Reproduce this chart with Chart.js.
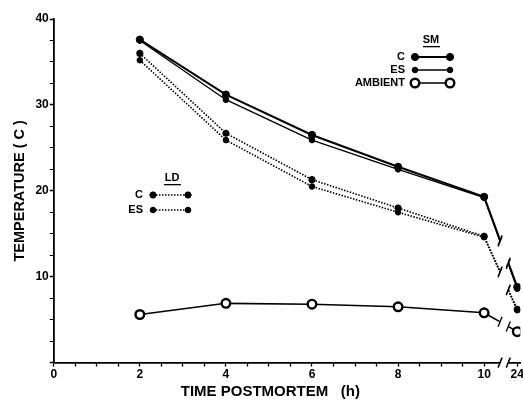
<!DOCTYPE html>
<html>
<head>
<meta charset="utf-8">
<script src="https://cdn.jsdelivr.net/npm/chart.js@4/dist/chart.umd.min.js"></script>
<style>
  html, body { margin: 0; padding: 0; background: #fff; overflow: hidden; }
  #wrap { width: 527px; height: 401px; }
</style>
</head>
<body>
<div id="wrap"><canvas id="chart"></canvas></div>
<script>
// valores (temperatura en C)
const hours = [2, 4, 6, 8, 10, 24];
const smC = [37.6, 31.2, 26.5, 22.8, 19.3, 8.8];
const smES = [37.5, 30.6, 25.9, 22.5, 19.2, 8.6];
const ldC = [36.0, 26.7, 21.3, 18.0, 14.7, 6.2];
const ldES = [35.2, 25.9, 20.5, 17.5, 14.6, 6.1];
const ambient = [5.6, 6.9, 6.8, 6.5, 5.8, 3.6];
const xTickLabels = ['0', '2', '4', '6', '8', '10'];
const lateTickLabel = '24';
const yTickLabels = ['10', '20', '30', '40'];

// eje x cortado: las 24 h se dibujan justo despues del corte
const LATE_POS = 10.77;
const BREAK_FROM = 10.37;
const BREAK_TO = 10.56;
const xPos = h => (h > 10 ? LATE_POS : h);
const toPoints = arr => arr.map((v, i) => ({ x: xPos(hours[i]), y: v }));

const FONT = '"Liberation Sans", Arial, sans-serif';

const base = {
  borderColor: '#000',
  pointBorderColor: '#000',
  pointBackgroundColor: '#000',
  tension: 0,
  fill: false
};

const datasets = [
  { ...base, label: 'SM C', data: toPoints(smC), borderWidth: 2, pointRadius: 3.6, pointBorderWidth: 1, pointStyle: 'circle', group: 'SM', key: 'C' },
  { ...base, label: 'SM ES', data: toPoints(smES), borderWidth: 1.4, pointRadius: 2.8, pointBorderWidth: 1, pointStyle: 'circle', group: 'SM', key: 'ES' },
  { ...base, label: 'AMBIENT', data: toPoints(ambient), borderWidth: 1.6, pointRadius: 4.3, pointBorderWidth: 2.4, pointStyle: 'circle', pointBackgroundColor: '#fff', group: 'SM', key: 'AMBIENT' },
  { ...base, label: 'LD C', data: toPoints(ldC), borderWidth: 1.6, borderDash: [1.5, 1.5], pointRadius: 3.6, pointBorderWidth: 2.2, pointStyle: 'star', group: 'LD', key: 'C' },
  { ...base, label: 'LD ES', data: toPoints(ldES), borderWidth: 1.6, borderDash: [1.5, 1.5], pointRadius: 2.8, pointBorderWidth: 1, pointStyle: 'circle', group: 'LD', key: 'ES' }
];

function marker(ctx, ds, x, y) {
  ctx.save();
  ctx.setLineDash([]);
  ctx.fillStyle = ds.pointBackgroundColor;
  ctx.strokeStyle = ds.pointBorderColor;
  ctx.lineWidth = ds.pointBorderWidth;
  Chart.helpers.drawPoint(ctx, { pointStyle: ds.pointStyle, radius: ds.pointRadius, borderWidth: ds.pointBorderWidth, rotation: 0 }, x, y);
  ctx.restore();
}

function sample(ctx, ds, x1, x2, y) {
  ctx.save();
  ctx.strokeStyle = ds.borderColor;
  ctx.lineWidth = ds.borderWidth;
  ctx.setLineDash(ds.borderDash || []);
  ctx.beginPath();
  ctx.moveTo(x1, y);
  ctx.lineTo(x2, y);
  ctx.stroke();
  ctx.restore();
  marker(ctx, ds, x1, y);
  marker(ctx, ds, x2, y);
}

function slash(ctx, x, y, w) {
  ctx.save();
  ctx.strokeStyle = '#000';
  ctx.lineWidth = w || 1.5;
  ctx.setLineDash([]);
  ctx.beginPath();
  ctx.moveTo(x - 2, y + 5);
  ctx.lineTo(x + 2, y - 5);
  ctx.stroke();
  ctx.restore();
}

const breakAndLegend = {
  id: 'breakAndLegend',
  afterDatasetsDraw(chart) {
    const { ctx, chartArea, scales } = chart;
    const xs = scales.x;
    const xl = xs.getPixelForValue(BREAK_FROM);
    const xr = xs.getPixelForValue(BREAK_TO);
    // tapar el tramo del corte
    ctx.save();
    ctx.fillStyle = '#fff';
    ctx.fillRect(xl, chartArea.top, xr - xl, chartArea.bottom - chartArea.top + 2);
    ctx.restore();
    slash(ctx, xl, chartArea.bottom, 1.5);
    slash(ctx, xr, chartArea.bottom, 1.5);
    // marcas de corte en cada serie
    chart.data.datasets.forEach((ds, i) => {
      const pts = chart.getDatasetMeta(i).data;
      const a = pts[4], b = pts[5];
      const yAt = x => a.y + (b.y - a.y) * (x - a.x) / (b.x - a.x);
      slash(ctx, xl, yAt(xl), 1.3);
      slash(ctx, xr, yAt(xr), 1.3);
    });
  },
  afterDraw(chart) {
    const { ctx } = chart;
    const dsBy = (g, k) => chart.data.datasets.find(d => d.group === g && d.key === k);
    ctx.save();
    ctx.fillStyle = '#000';
    ctx.font = 'bold 11px ' + FONT;
    ctx.textBaseline = 'middle';

    // leyenda SM
    ctx.textAlign = 'center';
    ctx.fillText('SM', 431, 40);
    ctx.fillRect(423, 46, 17, 1.3);
    ctx.textAlign = 'right';
    const smRows = [['C', 57], ['ES', 70], ['AMBIENT', 83]];
    smRows.forEach(([k, y]) => {
      ctx.fillText(k, 405, y);
      sample(ctx, dsBy('SM', k), 415, 450, y);
    });

    // leyenda LD
    ctx.fillStyle = '#000';
    ctx.font = 'bold 11px ' + FONT;
    ctx.textAlign = 'center';
    ctx.fillText('LD', 172, 178);
    ctx.fillRect(164, 184, 17, 1.3);
    ctx.textAlign = 'right';
    [['C', 195], ['ES', 210]].forEach(([k, y]) => {
      ctx.fillStyle = '#000';
      ctx.fillText(k, 143, y);
      sample(ctx, dsBy('LD', k), 153, 188, y);
    });
    ctx.restore();
  }
};

new Chart(document.getElementById('chart'), {
  type: 'line',
  data: { datasets },
  options: {
    responsive: true,
    maintainAspectRatio: false,
    animation: false,
    layout: { padding: { top: 19, right: 0, left: 11, bottom: 0 } },
    plugins: { legend: { display: false }, tooltip: { enabled: false } },
    scales: {
      x: {
        type: 'linear',
        min: 0,
        max: 10.84,
        afterBuildTicks: scale => {
          const t = [];
          for (let v = 0; v <= 10; v += 0.5) t.push({ value: v });
          t.push({ value: LATE_POS });
          scale.ticks = t;
        },
        afterFit: scale => { scale.paddingRight = 0; scale.paddingLeft = 0; },
        grid: { drawOnChartArea: false, tickLength: 4, tickColor: '#000', tickWidth: 1.3 },
        border: { color: '#000', width: 1.8 },
        ticks: {
          autoSkip: false,
          maxRotation: 0,
          padding: 1,
          color: '#000',
          font: { family: FONT, size: 12, weight: 'bold' },
          callback: v => {
            if (v === LATE_POS) return lateTickLabel;
            const s = String(v);
            return xTickLabels.includes(s) ? s : '';
          }
        },
        title: {
          display: true,
          // espacios finales para correr el titulo a la izquierda como en la figura
          text: 'TIME POSTMORTEM   (h)        ',
          color: '#000',
          font: { family: FONT, size: 15, weight: 'bold' },
          padding: { top: 0, bottom: 0 }
        }
      },
      y: {
        min: 0,
        max: 40,
        afterBuildTicks: scale => {
          const t = [];
          for (let v = 0; v <= 40; v += 2.5) t.push({ value: v });
          scale.ticks = t;
        },
        grid: {
          drawOnChartArea: false,
          tickColor: '#000',
          tickLength: 4,
          tickWidth: ctx => (ctx.tick && ctx.tick.value % 10 === 0 ? 1.5 : 1)
        },
        border: { color: '#000', width: 1.8 },
        ticks: {
          autoSkip: false,
          padding: 1,
          color: '#000',
          font: { family: FONT, size: 12, weight: 'bold' },
          callback: v => (yTickLabels.includes(String(v)) ? String(v) : '')
        },
        title: {
          display: true,
          text: 'TEMPERATURE ( C )',
          color: '#000',
          font: { family: FONT, size: 14.5, weight: 'bold' },
          padding: { top: 0, bottom: 6 }
        }
      }
    }
  },
  plugins: [breakAndLegend]
});
</script>
</body>
</html>
